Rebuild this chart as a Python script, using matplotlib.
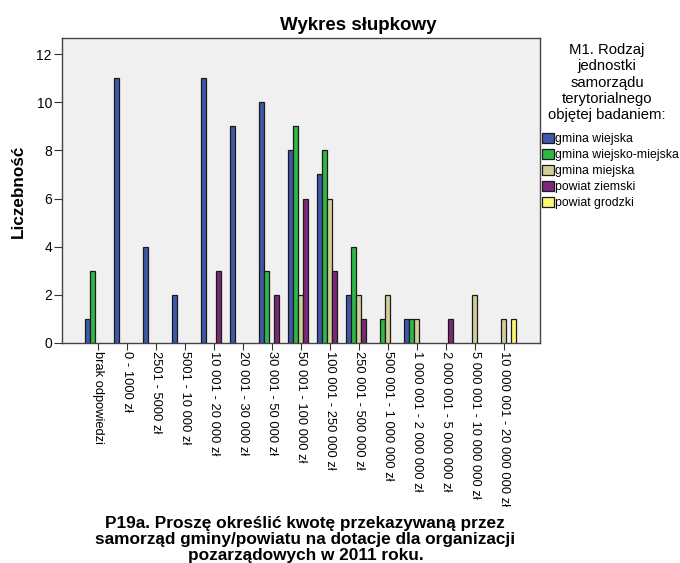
import matplotlib
matplotlib.use('Agg')
import matplotlib.pyplot as plt
import numpy as np

plt.rcParams['font.family'] = ['Liberation Sans', 'DejaVu Sans']

# kategorie (oś X)
categories = [
    'brak odpowiedzi', '0 - 1000 zł', '2501 - 5000 zł', '5001 - 10 000 zł',
    '10 001 - 20 000 zł', '20 001 - 30 000 zł', '30 001 - 50 000 zł',
    '50 001 - 100 000 zł', '100 001 - 250 000 zł', '250 001 - 500 000 zł',
    '500 001 - 1 000 000 zł', '1 000 001 - 2 000 000 zł',
    '2 000 001 - 5 000 000 zł', '5 000 001 - 10 000 000 zł',
    '10 000 001 - 20 000 000 zł',
]

series_names = ['gmina wiejska', 'gmina wiejsko-miejska', 'gmina miejska',
                'powiat ziemski', 'powiat grodzki']

gmina_wiejska = [1, 11, 4, 2, 11, 9, 10, 8, 7, 2, 0, 1, 0, 0, 0]
gmina_wiejsko_miejska = [3, 0, 0, 0, 0, 0, 3, 9, 8, 4, 1, 1, 0, 0, 0]
gmina_miejska = [0, 0, 0, 0, 0, 0, 0, 2, 6, 2, 2, 1, 0, 2, 1]
powiat_ziemski = [0, 0, 0, 0, 3, 0, 2, 6, 3, 1, 0, 0, 1, 0, 0]
powiat_grodzki = [0, 0, 0, 0, 0, 0, 0, 0, 0, 0, 0, 0, 0, 0, 1]

series = [gmina_wiejska, gmina_wiejsko_miejska, gmina_miejska,
          powiat_ziemski, powiat_grodzki]
colors = ['#3E58AC', '#2EB848', '#D3CE97', '#7C287D', '#FBF873']

fig = plt.figure(figsize=(6.8, 5.63), dpi=100)
ax = fig.add_axes([0.0907, 0.3908, 0.7033, 0.5417])
ax.set_facecolor('#F0F0F0')

x = np.arange(len(categories))
w = 0.172
for j, (vals, col, name) in enumerate(zip(series, colors, series_names)):
    vals = np.array(vals, dtype=float)
    mask = vals > 0
    ax.bar(x[mask] + (j - 2) * w, vals[mask], width=w, color=col,
           edgecolor='#1a1a1a', linewidth=0.9, label=name, zorder=3)

ax.set_xlim(-1.25, len(categories) - 1 + 1.25)
ax.set_ylim(0, 12.67)
ax.set_yticks(range(0, 13, 2))
ax.set_xticks(x)
ax.set_xticklabels(categories, rotation=-90, ha='center', va='top',
                   fontsize=9.3)
ax.tick_params(axis='x', length=5, width=0.8, color='#333333', pad=1)
ax.tick_params(axis='y', length=6, width=0.8, color='#333333', labelsize=10,
               pad=1)
for sp in ax.spines.values():
    sp.set_color('#444444')
    sp.set_linewidth(1.0)

# tytuł i opisy osi (va='baseline' -> linia bazowa ostatniego wiersza)
fig.text(0.527, 0.9467, 'Wykres słupkowy', ha='center', va='baseline',
         fontsize=13.5, fontweight='bold')
fig.text(0.027, 0.66, 'Liczebność', rotation=90, ha='center', va='center',
         fontsize=12.3, fontweight='bold')
fig.text(0.449, 0.0055,
         'P19a. Proszę określić kwotę przekazywaną przez\n'
         'samorząd gminy/powiatu na dotacje dla organizacji\n'
         'pozarządowych w 2011 roku.',
         ha='center', va='baseline', fontsize=12.4, fontweight='bold',
         linespacing=1.08)

# legenda
fig.text(0.8926, 0.7886,
         'M1. Rodzaj\njednostki\nsamorządu\nterytorialnego\nobjętej badaniem:',
         ha='center', va='baseline', fontsize=10.7, linespacing=1.2)
ax.legend(loc='upper left', bbox_to_anchor=(0.797, 0.764),
          bbox_transform=fig.transFigure, frameon=False,
          fontsize=8.8, handlelength=0.95, handleheight=0.9,
          handletextpad=0.15, labelspacing=0.3, borderpad=0,
          borderaxespad=0)

fig.savefig('out.png', dpi=100, facecolor='white')
